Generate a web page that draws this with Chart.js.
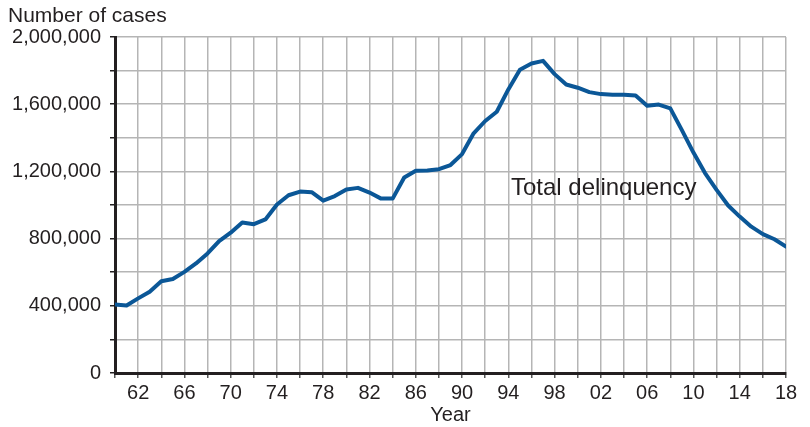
<!DOCTYPE html>
<html>
<head>
<meta charset="utf-8">
<script src="https://cdn.jsdelivr.net/npm/chart.js@4.4.1/dist/chart.umd.min.js"></script>
<style>
  html, body { margin: 0; padding: 0; background: #fff; }
  #wrap { width: 810px; height: 427px; }
</style>
</head>
<body>
<div id="wrap"><canvas id="grafico"></canvas></div>
<script>
const years = [1960, 1961, 1962, 1963, 1964, 1965, 1966, 1967, 1968, 1969,
  1970, 1971, 1972, 1973, 1974, 1975, 1976, 1977, 1978, 1979,
  1980, 1981, 1982, 1983, 1984, 1985, 1986, 1987, 1988, 1989,
  1990, 1991, 1992, 1993, 1994, 1995, 1996, 1997, 1998, 1999,
  2000, 2001, 2002, 2003, 2004, 2005, 2006, 2007, 2008, 2009,
  2010, 2011, 2012, 2013, 2014, 2015, 2016, 2017, 2018];

const totalCases = [408000, 402000, 444000, 484000, 546000, 560000, 602000, 652000, 712000, 785000,
  835000, 896000, 886000, 914000, 1003000, 1058000, 1080000, 1076000, 1026000, 1053000,
  1092000, 1102000, 1074000, 1038000, 1038000, 1164000, 1204000, 1206000, 1213000, 1238000,
  1303000, 1427000, 1500000, 1555000, 1688000, 1805000, 1842000, 1858000, 1779000, 1717000,
  1698000, 1672000, 1660000, 1656000, 1656000, 1652000, 1591000, 1598000, 1575000, 1446000,
  1312000, 1190000, 1090000, 997000, 931000, 871000, 827000, 796000, 752000];

const yTicksLabeled = [0, 400000, 800000, 1200000, 1600000, 2000000];
const xTicksLabeled = [1962, 1966, 1970, 1974, 1978, 1982, 1986, 1990, 1994, 1998, 2002, 2006, 2010, 2014, 2018];

const fuente = '"Liberation Sans", Arial, sans-serif';
const colorTexto = '#231f20';

const puntos = years.map((y, i) => ({ x: y, y: totalCases[i] }));

const textos = {
  id: 'textos',
  afterDraw(chart) {
    const c = chart.ctx;
    c.save();
    c.fillStyle = colorTexto;
    c.textBaseline = 'middle';
    c.textAlign = 'left';
    c.font = '21px ' + fuente;
    c.fillText('Number of cases', 8, 16);
    c.font = '24px ' + fuente;
    c.fillText('Total delinquency', 511, 188);
    c.restore();
  }
};

new Chart(document.getElementById('grafico').getContext('2d'), {
  type: 'line',
  data: {
    datasets: [{
      label: 'Total delinquency',
      data: puntos,
      borderColor: '#0b5797',
      borderWidth: 4,
      pointRadius: 0,
      tension: 0,
      borderJoinStyle: 'round',
      borderCapStyle: 'round'
    }]
  },
  options: {
    responsive: true,
    maintainAspectRatio: false,
    animation: false,
    layout: { padding: { top: 37, right: 24, left: 0, bottom: 0 } },
    plugins: {
      legend: { display: false },
      tooltip: { enabled: false }
    },
    scales: {
      x: {
        type: 'linear',
        min: 1960,
        max: 2018,
        afterFit: s => { s.height = 54; },
        grid: {
          color: '#b5b5b5',
          lineWidth: 1.5,
          tickColor: '#555',
          tickLength: 5,
          drawTicks: true
        },
        border: { color: '#231f20', width: 3 },
        ticks: {
          stepSize: 2,
          autoSkip: false,
          maxRotation: 0,
          padding: 3,
          color: colorTexto,
          font: { family: fuente, size: 20 },
          callback: v => xTicksLabeled.includes(v) ? String(v % 100).padStart(2, '0') : ''
        },
        title: {
          display: true,
          text: 'Year',
          color: colorTexto,
          font: { family: fuente, size: 20 },
          padding: { top: 0, bottom: 0 }
        }
      },
      y: {
        min: 0,
        max: 2000000,
        afterFit: s => { s.width = 115; },
        grid: {
          color: '#b5b5b5',
          lineWidth: 1.5,
          tickColor: '#231f20',
          tickLength: 5
        },
        border: { color: '#231f20', width: 3 },
        ticks: {
          stepSize: 200000,
          autoSkip: false,
          padding: 9,
          color: colorTexto,
          font: { family: fuente, size: 20 },
          callback: v => yTicksLabeled.includes(v) ? Number(v).toLocaleString('en-US') : ''
        }
      }
    }
  },
  plugins: [textos]
});
</script>
</body>
</html>
